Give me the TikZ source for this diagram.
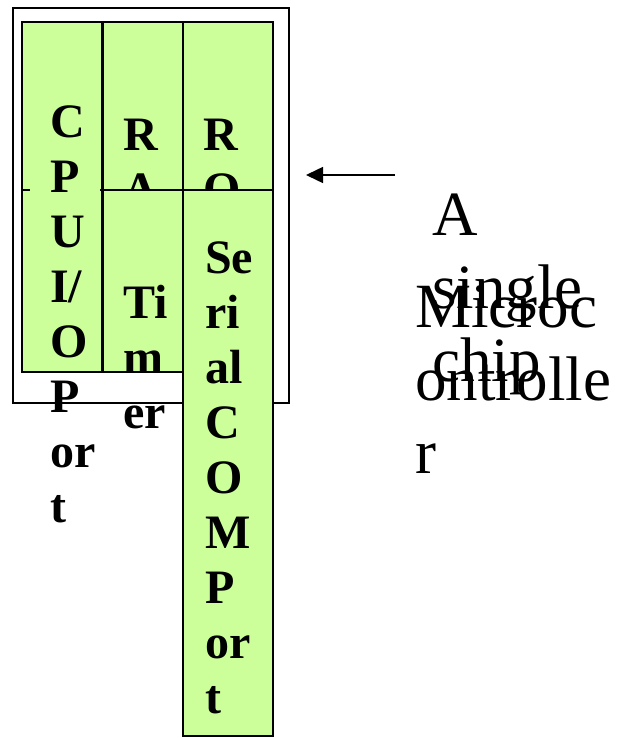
\documentclass[tikz,border=0pt]{standalone}
\usepackage{fontspec}
\setmainfont{Liberation Serif}
\usetikzlibrary{arrows.meta}
\definecolor{chipgreen}{RGB}{204,255,153}
\tikzset{
  cell/.style={draw,fill=chipgreen,line width=1.5pt,anchor=north west,inner sep=0pt,outer sep=0pt},
  celltext/.style={anchor=base west,align=left,inner sep=0pt,font=\fontsize{48}{55}\selectfont\bfseries},
  note/.style={anchor=base west,align=left,inner sep=0pt,font=\fontsize{63}{73}\selectfont}
}
\begin{document}
\begin{tikzpicture}[x=1pt,y=-1pt,>={Triangle[length=17pt,width=16pt]}]
 \useasboundingbox (0,0) rectangle (627,738);
 % the chip outline
 \node[draw,line width=1.5pt,anchor=north west,inner sep=0pt,outer sep=0pt,
   minimum width=276pt,minimum height=395pt] (chip) at (13,8) {};
 % left column
 \node[cell,minimum width=80pt,minimum height=168pt] (cpu) at (22,22) {};
 \node[cell,minimum width=80pt,minimum height=182pt] (io) at (22,190) {};
 \fill[chipgreen] (30,52) rectangle (100,267);
 % top row (base anchor = last line)
 \node[cell,minimum width=80pt,minimum height=168pt] (ram) at (103,22) {};
 \node[cell,minimum width=90pt,minimum height=168pt] (rom) at (183,22) {};
 \node[celltext] (ramtxt) at (123,260) {R\\A\\M};
 \node[celltext] (romtxt) at (203,260) {R\\O\\M};
 % bottom row
 \node[cell,minimum width=80pt,minimum height=182pt] (timer) at (103,190) {};
 \node[cell,minimum width=90pt,minimum height=546pt] (serial) at (183,190) {};
 \node[celltext] (timertxt) at (123,428) {Ti\\m\\er};
 \node[celltext] (serialtxt) at (205,713) {Se\\ri\\al\\C\\O\\M\\P\\or\\t};
 \node[celltext] (cputxt) at (50,522) {C\\P\\U\\I/\\O\\P\\or\\t};
 % labels on the right
 \node[note] (single) at (432,381) {A\\single\\chip};
 \node[note] (micro) at (415,473) {Microc\\ontrolle\\r};
 \coordinate (arrtail) at (395,175);
 \coordinate (arrtip) at (306,175);
 \draw[->,line width=1.5pt] (arrtail) -- (arrtip);
\end{tikzpicture}
\end{document}
